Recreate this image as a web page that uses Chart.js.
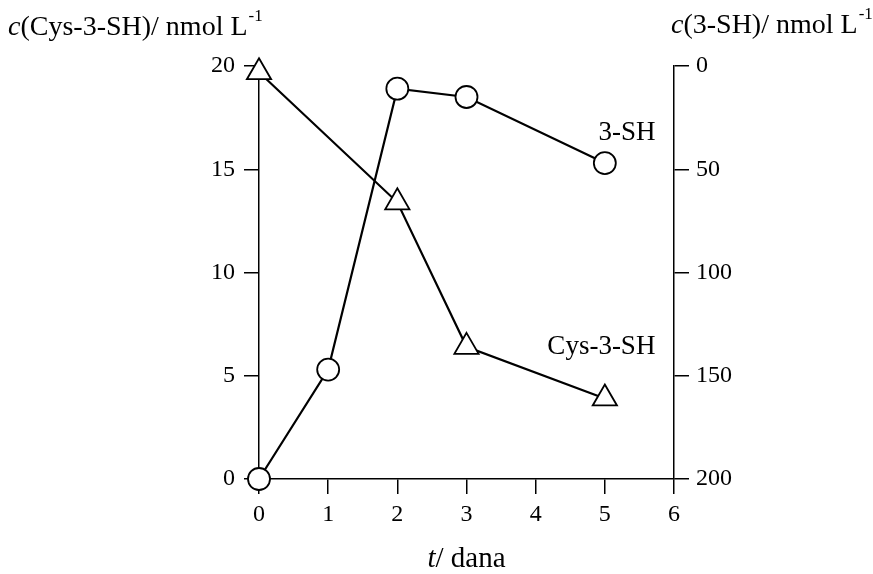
<!DOCTYPE html>
<html>
<head>
<meta charset="utf-8">
<script src="https://cdn.jsdelivr.net/npm/chart.js@4"></script>
<style>
  html, body { margin: 0; padding: 0; background: #fff; }
  #wrap { width: 873px; height: 574px; }
</style>
</head>
<body>
<div id="wrap"><canvas id="chart"></canvas></div>
<script>
// data
const days = [0, 1, 2, 3, 5];
const cysDays = [0, 2, 3, 5];
const cysValues = [19.7, 13.4, 6.4, 3.9];      // c(Cys-3-SH), left axis
const shValues = [200, 147, 11, 15, 47];       // c(3-SH), right axis (reversed)
const xTicks = [0, 1, 2, 3, 4, 5, 6];

const FONT = "'Liberation Serif', 'Times New Roman', serif";
Chart.defaults.font.family = FONT;
Chart.defaults.color = '#000';

// draws "c(...)/ nmol L-1" style titles with italic first letter + superscript
function drawTitle(ctx, x, y, italic, rest, sup, size) {
    ctx.textBaseline = 'alphabetic';
    ctx.textAlign = 'left';
    ctx.font = "italic " + size + "px " + FONT;
    ctx.fillText(italic, x, y);
    x += ctx.measureText(italic).width;
    ctx.font = size + "px " + FONT;
    ctx.fillText(rest, x, y);
    x += ctx.measureText(rest).width;
    if (sup) {
        ctx.font = Math.round(size * 0.6) + "px " + FONT;
        ctx.fillText(sup, x + 1, y - size * 0.5);
    }
}

const textPlugin = {
    id: 'texts',
    afterDraw(chart) {
        const ctx = chart.ctx;
        const xs = chart.scales.x, yl = chart.scales.yL, yr = chart.scales.yR;
        ctx.save();
        ctx.fillStyle = '#000';
        drawTitle(ctx, 8, 35, 'c', '(Cys-3-SH)/ nmol L', '-1', 28);
        drawTitle(ctx, 671, 33, 'c', '(3-SH)/ nmol L', '-1', 28);

        // x axis title: italic t + "/ dana"
        ctx.font = "29px " + FONT;
        const w2 = ctx.measureText('/ dana').width;
        ctx.font = "italic 29px " + FONT;
        const w1 = ctx.measureText('t').width;
        const tx = (xs.left + xs.right) / 2 - (w1 + w2) / 2;
        ctx.textBaseline = 'alphabetic';
        ctx.textAlign = 'left';
        ctx.fillText('t', tx, 567);
        ctx.font = "29px " + FONT;
        ctx.fillText('/ dana', tx + w1, 567);

        // series labels near their last points
        ctx.font = "27px " + FONT;
        ctx.textAlign = 'center';
        ctx.textBaseline = 'middle';
        ctx.fillText('3-SH', xs.getPixelForValue(5.32), yr.getPixelForValue(32.5));
        ctx.fillText('Cys-3-SH', xs.getPixelForValue(4.95), yl.getPixelForValue(6.4));
        ctx.restore();
    }
};

const axisGrid = {
    display: true,
    drawOnChartArea: false,
    drawTicks: true,
    tickLength: 15,
    color: '#000',
    lineWidth: 1.5
};
const axisBorder = { display: true, color: '#000', width: 1.5 };

new Chart(document.getElementById('chart'), {
    type: 'line',
    data: {
        datasets: [
            {
                label: 'Cys-3-SH',
                data: cysDays.map((d, i) => ({ x: d, y: cysValues[i] })),
                yAxisID: 'yL',
                borderColor: '#000',
                borderWidth: 2.2,
                pointStyle: 'triangle',
                pointRadius: 14,
                pointBackgroundColor: '#fff',
                pointBorderColor: '#000',
                pointBorderWidth: 1.8,
                tension: 0
            },
            {
                label: '3-SH',
                data: days.map((d, i) => ({ x: d, y: shValues[i] })),
                yAxisID: 'yR',
                borderColor: '#000',
                borderWidth: 2.2,
                pointStyle: 'circle',
                pointRadius: 11,
                pointBackgroundColor: '#fff',
                pointBorderColor: '#000',
                pointBorderWidth: 1.8,
                tension: 0
            }
        ]
    },
    options: {
        responsive: true,
        maintainAspectRatio: false,
        animation: false,
        clip: false,
        layout: { padding: { top: 66, left: 0, right: 0, bottom: 0 } },
        plugins: {
            legend: { display: false },
            tooltip: { enabled: false }
        },
        scales: {
            x: {
                type: 'linear',
                min: 0, max: 6,
                afterBuildTicks: (s) => { s.ticks = xTicks.map(v => ({ value: v })); },
                afterFit: (s) => { s.height = 95; },
                grid: axisGrid,
                border: axisBorder,
                ticks: { font: { size: 24 }, padding: 6, maxRotation: 0 }
            },
            yL: {
                position: 'left',
                min: 0, max: 20,
                ticks: { stepSize: 5, font: { size: 24 }, padding: 9 },
                afterFit: (s) => { s.width = 259; },
                grid: axisGrid,
                border: axisBorder
            },
            yR: {
                position: 'right',
                min: 0, max: 200,
                reverse: true,
                ticks: { stepSize: 50, font: { size: 24 }, padding: 7 },
                afterFit: (s) => { s.width = 199; },
                grid: axisGrid,
                border: axisBorder
            }
        }
    },
    plugins: [textPlugin]
});
</script>
</body>
</html>
